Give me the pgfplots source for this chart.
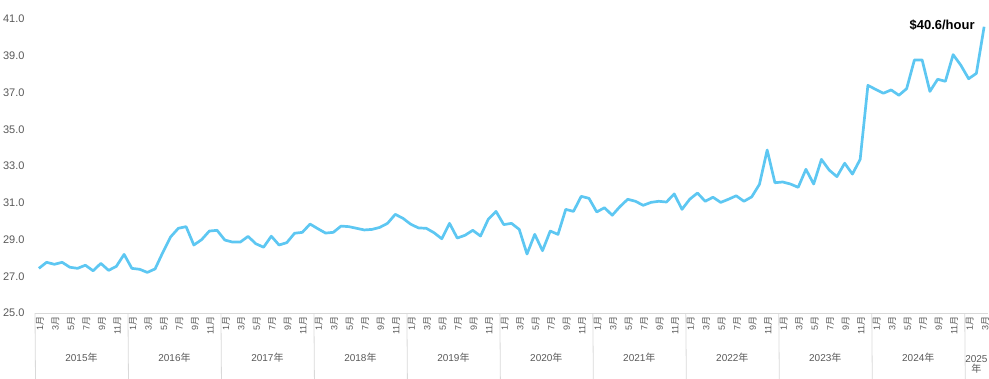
\documentclass[border=0pt]{standalone}
\usepackage{fontspec}
\setmainfont{Liberation Sans}
\newfontfamily\cjk{Noto Sans CJK SC}
\usepackage{pgfplots}
\usepackage{pgfplotstable}
\pgfplotsset{compat=1.18}
\definecolor{linec}{RGB}{93,199,242}
\definecolor{labelgrey}{RGB}{89,89,89}
\definecolor{sepgrey}{RGB}{217,217,217}
\newcommand{\M}[1]{#1{\cjk 月}}
\newcommand{\Y}[1]{#1{\cjk 年}}
\pgfplotstableread{
i v
0 27.43
1 27.76
2 27.65
3 27.76
4 27.49
5 27.43
6 27.60
7 27.30
8 27.70
9 27.32
10 27.54
11 28.19
12 27.43
13 27.38
14 27.21
15 27.40
16 28.30
17 29.14
18 29.61
19 29.70
20 28.70
21 28.99
22 29.46
23 29.50
24 28.97
25 28.86
26 28.86
27 29.17
28 28.77
29 28.58
30 29.18
31 28.70
32 28.83
33 29.34
34 29.39
35 29.84
36 29.59
37 29.35
38 29.39
39 29.73
40 29.70
41 29.61
42 29.52
43 29.55
44 29.66
45 29.88
46 30.37
47 30.15
48 29.83
49 29.63
50 29.61
51 29.37
52 29.04
53 29.88
54 29.08
55 29.23
56 29.50
57 29.19
58 30.10
59 30.53
60 29.81
61 29.88
62 29.55
63 28.21
64 29.28
65 28.39
66 29.46
67 29.28
68 30.64
69 30.53
70 31.35
71 31.24
72 30.50
73 30.73
74 30.32
75 30.79
76 31.19
77 31.08
78 30.86
79 31.02
80 31.08
81 31.04
82 31.48
83 30.64
84 31.19
85 31.53
86 31.08
87 31.30
88 31.02
89 31.19
90 31.38
91 31.08
92 31.32
93 32.00
94 33.87
95 32.09
96 32.13
97 32.02
98 31.84
99 32.82
100 32.02
101 33.36
102 32.78
103 32.42
104 33.15
105 32.56
106 33.36
107 37.39
108 37.17
109 36.96
110 37.14
111 36.85
112 37.21
113 38.77
114 38.77
115 37.06
116 37.72
117 37.61
118 39.06
119 38.48
120 37.75
121 38.04
122 40.58
}\wage
\begin{document}
\begin{tikzpicture}
\useasboundingbox (0,0) rectangle (989pt,378pt);
\begin{axis}[
  at={(35pt,65pt)}, anchor=south west,
  scale only axis, width=953pt, height=294pt,
  xmin=-0.5, xmax=122.5, ymin=25, ymax=41,
  ytick={25,27,...,41},
  xtick={0,2,...,122},
  xticklabels={\M{1},\M{3},\M{5},\M{7},\M{9},\M{11},
               \M{1},\M{3},\M{5},\M{7},\M{9},\M{11},
               \M{1},\M{3},\M{5},\M{7},\M{9},\M{11},
               \M{1},\M{3},\M{5},\M{7},\M{9},\M{11},
               \M{1},\M{3},\M{5},\M{7},\M{9},\M{11},
               \M{1},\M{3},\M{5},\M{7},\M{9},\M{11},
               \M{1},\M{3},\M{5},\M{7},\M{9},\M{11},
               \M{1},\M{3},\M{5},\M{7},\M{9},\M{11},
               \M{1},\M{3},\M{5},\M{7},\M{9},\M{11},
               \M{1},\M{3},\M{5},\M{7},\M{9},\M{11},
               \M{1},\M{3}},
  axis x line*=bottom, axis y line*=left,
  x axis line style={draw=sepgrey, line width=0.8pt, -},
  y axis line style={draw=none, -},
  major tick length=0pt,
  /pgf/number format/.cd, fixed, fixed zerofill, precision=1, assume math mode=true,
  /pgfplots/.cd,
  yticklabel style={font=\fontsize{11}{13}\selectfont, text=labelgrey, xshift=-7pt},
  xticklabel style={rotate=90, anchor=east, font=\fontsize{9}{10}\selectfont, text=labelgrey, yshift=-1pt},
  clip=false,
]
\addplot[color=linec, line width=2.7pt, line join=round, no marks] table[x=i, y=v] {\wage};
\draw[sepgrey, line width=0.8pt] (axis cs:-0.5,25) -- ++(0,-65pt);
\draw[sepgrey, line width=0.8pt] (axis cs:11.5,25) -- ++(0,-65pt);
\draw[sepgrey, line width=0.8pt] (axis cs:23.5,25) -- ++(0,-65pt);
\draw[sepgrey, line width=0.8pt] (axis cs:35.5,25) -- ++(0,-65pt);
\draw[sepgrey, line width=0.8pt] (axis cs:47.5,25) -- ++(0,-65pt);
\draw[sepgrey, line width=0.8pt] (axis cs:59.5,25) -- ++(0,-65pt);
\draw[sepgrey, line width=0.8pt] (axis cs:71.5,25) -- ++(0,-65pt);
\draw[sepgrey, line width=0.8pt] (axis cs:83.5,25) -- ++(0,-65pt);
\draw[sepgrey, line width=0.8pt] (axis cs:95.5,25) -- ++(0,-65pt);
\draw[sepgrey, line width=0.8pt] (axis cs:107.5,25) -- ++(0,-65pt);
\draw[sepgrey, line width=0.8pt] (axis cs:119.5,25) -- ++(0,-65pt);
\begin{scope}[every node/.style={font=\fontsize{10}{12}\selectfont, text=labelgrey}]
\node at ([yshift=-45pt]axis cs:5.5,25) {\Y{2015}};
\node at ([yshift=-45pt]axis cs:17.5,25) {\Y{2016}};
\node at ([yshift=-45pt]axis cs:29.5,25) {\Y{2017}};
\node at ([yshift=-45pt]axis cs:41.5,25) {\Y{2018}};
\node at ([yshift=-45pt]axis cs:53.5,25) {\Y{2019}};
\node at ([yshift=-45pt]axis cs:65.5,25) {\Y{2020}};
\node at ([yshift=-45pt]axis cs:77.5,25) {\Y{2021}};
\node at ([yshift=-45pt]axis cs:89.5,25) {\Y{2022}};
\node at ([yshift=-45pt]axis cs:101.5,25) {\Y{2023}};
\node at ([yshift=-45pt]axis cs:113.5,25) {\Y{2024}};
\node[align=center, inner sep=0pt] at ([yshift=-51.5pt]axis cs:121,25) {2025\\[-2pt]{\cjk 年}};
\end{scope}
\node[anchor=east, font=\bfseries\fontsize{13}{15}\selectfont, text=black, xshift=-6pt, yshift=1pt] at (axis cs:122,40.6) {\$40.6/hour};
\end{axis}
\end{tikzpicture}
\end{document}
